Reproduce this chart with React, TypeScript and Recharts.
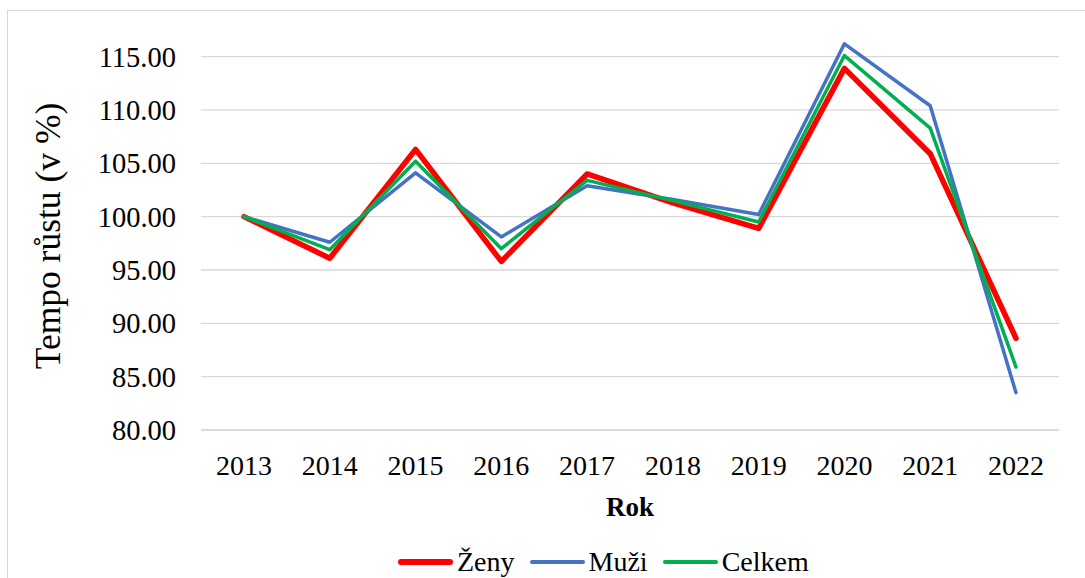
import React from 'react';
import { LineChart, Line, XAxis, YAxis, ReferenceLine } from 'recharts';

const years = ['2013', '2014', '2015', '2016', '2017', '2018', '2019', '2020', '2021', '2022'];
const zeny = [100, 96.1, 106.3, 95.8, 104.0, 101.3, 98.9, 113.9, 105.9, 88.6];
const muzi = [100, 97.6, 104.1, 98.1, 102.9, 101.6, 100.2, 116.2, 110.4, 83.5];
const celkem = [100, 96.9, 105.2, 97.0, 103.4, 101.5, 99.5, 115.1, 108.3, 85.9];
const yTicks = [80, 85, 90, 95, 100, 105, 110, 115];

const series = [
  { key: 'zeny', name: 'Ženy', color: '#FF0000', width: 5.5 },
  { key: 'muzi', name: 'Muži', color: '#4472C4', width: 3.5 },
  { key: 'celkem', name: 'Celkem', color: '#00B050', width: 3.5 },
];

const data = years.map((y, i) => ({ year: y, zeny: zeny[i], muzi: muzi[i], celkem: celkem[i] }));

const FONT = 'Liberation Serif, serif';

const XTick = (props: any) => {
  const { x, y, payload } = props;
  return (
    <text x={x} y={y} dy="0.71em" textAnchor="middle" fontFamily={FONT} fontSize={28} fill="#000">
      {payload.value}
    </text>
  );
};

const YTick = (props: any) => {
  const { x, y, payload } = props;
  return (
    <text x={x} y={y} dy="0.355em" textAnchor="end" fontFamily={FONT} fontSize={28.5} fill="#000">
      {Number(payload.value).toFixed(2)}
    </text>
  );
};

export default function App() {
  return (
    <div style={{ position: 'absolute', left: 0, top: 0, width: 1085, height: 578, overflow: 'hidden', background: '#fff' }}>
      <div style={{ position: 'absolute', left: 7, top: 10, width: 1090, height: 600, border: '1px solid #d9d9d9', boxSizing: 'border-box' }} />
      <div style={{ position: 'absolute', left: 0, top: 0 }}>
        <LineChart width={1085} height={578} data={data} margin={{ top: 35.3, right: 26, bottom: 0, left: 0 }}>
          {yTicks.map((t) => (
            <ReferenceLine key={t} y={t} stroke="#d9d9d9" strokeWidth={1.3} />
          ))}
          <XAxis
            dataKey="year"
            height={148}
            padding={{ left: 43, right: 43 }}
            tickLine={false}
            tickMargin={19}
            axisLine={{ stroke: '#d9d9d9', strokeWidth: 1.3 }}
            tick={<XTick />}
            interval={0}
            label={{
              content: () => (
                <text x={630} y={507} textAnchor="middle" dominantBaseline="central" fontFamily={FONT} fontSize={27} fontWeight="bold" fill="#000">
                  Rok
                </text>
              ),
            }}
          />
          <YAxis
            width={201}
            domain={[80, 117]}
            ticks={yTicks}
            interval={0}
            axisLine={false}
            tickLine={false}
            tickMargin={19}
            tick={<YTick />}
            label={{
              content: () => (
                <text x={48} y={236} transform="rotate(-90, 48, 236)" textAnchor="middle" dominantBaseline="central" fontFamily={FONT} fontSize={35.5} fill="#000">
                  Tempo růstu (v %)
                </text>
              ),
            }}
          />
          {series.map((s) => (
            <Line
              key={s.key}
              dataKey={s.key}
              name={s.name}
              type="linear"
              stroke={s.color}
              strokeWidth={s.width}
              strokeLinejoin="round"
              strokeLinecap="round"
              dot={false}
              activeDot={false}
              isAnimationActive={false}
            />
          ))}
        </LineChart>
      </div>
      <div style={{ position: 'absolute', left: 398, top: 545, display: 'flex', alignItems: 'center', height: 34 }}>
        {series.map((s) => (
          <div key={s.key} style={{ display: 'flex', alignItems: 'center', marginRight: 15 }}>
            <div style={{ width: 55, height: s.width, background: s.color, borderRadius: 3, marginRight: 4 }} />
            <span style={{ fontSize: 28, color: '#000', fontFamily: FONT, lineHeight: '34px' }}>{s.name}</span>
          </div>
        ))}
      </div>
    </div>
  );
}
